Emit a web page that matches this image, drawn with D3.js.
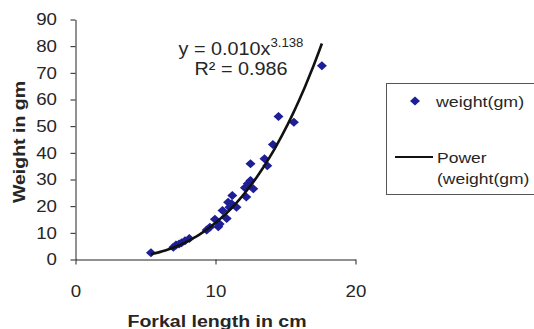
<!DOCTYPE html>
<html>
<head>
<meta charset="utf-8">
<script src="https://cdn.jsdelivr.net/npm/d3@7"></script>
<style>
  body { margin: 0; background: #fff; }
  svg { display: block; font-family: Arial, "Liberation Sans", sans-serif; }
</style>
</head>
<body>
<div id="chart"></div>
<script>
// fork length (cm) vs weight (gm)
const lengthCm = [5.39, 6.99, 7.18, 7.4, 7.58, 7.82, 8.13, 9.37, 9.6, 9.96, 10.2, 10.3, 10.8, 10.5,
  10.9, 11.2, 11.0, 11.15, 11.5, 12.1, 12.2, 12.3, 12.5, 12.7, 12.5, 13.5, 13.7, 14.1, 14.5, 15.6, 17.6];
const weightGm = [2.5, 4.6, 5.4, 5.8, 6.3, 7.0, 7.9, 11.1, 12.1, 15.1, 12.3, 13.3, 15.4, 18.4,
  21.5, 24.0, 19.6, 20.9, 19.6, 26.9, 23.4, 28.4, 29.6, 26.5, 35.9, 37.8, 35.2, 43.1, 53.6, 51.5, 72.7];

const xTicks = [0, 10, 20];
const yTicks = [0, 10, 20, 30, 40, 50, 60, 70, 80, 90];

// power trendline y = a x^b
const trendA = 0.010, trendB = 3.138;
const eqMain = 'y = 0.010x', eqPow = '3.138';
const r2Label = 'R\u00b2 = 0.986';

const seriesName = 'weight(gm)';
const trendName = ['Power', '(weight(gm)'];
const xTitle = 'Forkal length in cm';
const yTitle = 'Weight in gm';

const width = 534, height = 329;
const blue = '#1e1e96', ink = '#262626';

const x = d3.scaleLinear().domain([0, 20]).range([75.5, 355.5]);
const y = d3.scaleLinear().domain([0, 90]).range([259.5, 19.5]);

const svg = d3.select('#chart').append('svg')
  .attr('width', width)
  .attr('height', height);

// text in the picture runs a bit wider than Arial, so stretch along the baseline
const place = (sel, tx, ty, k, rot) =>
  sel.attr('transform', `translate(${tx},${ty})${rot ? ` rotate(${rot})` : ''} scale(${k},1)`);

const diamond = (w, h) => `M0,${-h / 2}L${w / 2},0L0,${h / 2}L${-w / 2},0Z`;

// axes
const yAxis = svg.append('g')
  .attr('transform', `translate(${x(0)},0)`)
  .call(d3.axisLeft(y).tickValues(yTicks).tickSize(5).tickSizeOuter(0));
yAxis.selectAll('text')
  .attr('x', 0)
  .attr('font-size', 17)
  .attr('fill', ink)
  .attr('transform', 'translate(-18.5,0) scale(1.1,1)');

const xAxis = svg.append('g')
  .attr('transform', `translate(0,${y(0)})`)
  .call(d3.axisBottom(x).tickValues(xTicks).tickSize(5).tickSizeOuter(0).tickPadding(20));
xAxis.selectAll('text')
  .attr('font-size', 17)
  .attr('fill', ink)
  .attr('transform', 'scale(1.1,1)');

svg.selectAll('.domain, .tick line').attr('stroke', '#222');
svg.selectAll('.tick text').attr('font-family', null);
svg.selectAll('g').attr('font-family', null);

// axis titles
svg.append('text')
  .attr('text-anchor', 'middle')
  .attr('font-size', 17)
  .attr('font-weight', 'bold')
  .attr('fill', ink)
  .text(xTitle)
  .call(place, 217, 326.5, 1.15);

svg.append('text')
  .attr('text-anchor', 'middle')
  .attr('font-size', 17)
  .attr('font-weight', 'bold')
  .attr('fill', ink)
  .text(yTitle)
  .call(place, 25, 142, 1.15, -90);

// points
const pts = lengthCm.map((v, i) => [v, weightGm[i]]);
svg.append('g').selectAll('path')
  .data(pts)
  .join('path')
  .attr('d', diamond(10, 9))
  .attr('fill', blue)
  .attr('transform', d => `translate(${x(d[0])},${y(d[1])})`);

// trendline over the data range
const [xMin, xMax] = d3.extent(lengthCm);
const curve = d3.range(0, 61).map(i => {
  const xv = xMin + (xMax - xMin) * i / 60;
  return [xv, trendA * Math.pow(xv, trendB)];
});
svg.append('path')
  .datum(curve)
  .attr('fill', 'none')
  .attr('stroke', '#111')
  .attr('stroke-width', 2.6)
  .attr('d', d3.line().x(d => x(d[0])).y(d => y(d[1])));

// equation label
const eq = svg.append('text')
  .attr('text-anchor', 'middle')
  .attr('font-size', 18)
  .attr('fill', ink)
  .call(place, 241, 55, 1.1);
eq.append('tspan').text(eqMain);
eq.append('tspan').attr('font-size', 12).attr('dy', -8.5).text(eqPow);

svg.append('text')
  .attr('text-anchor', 'middle')
  .attr('font-size', 18)
  .attr('fill', ink)
  .text(r2Label)
  .call(place, 241, 75, 1.1);

// legend
const lg = svg.append('g');
lg.append('rect')
  .attr('x', 386.5).attr('y', 83.5)
  .attr('width', 170).attr('height', 111)
  .attr('fill', '#fff')
  .attr('stroke', '#555');
lg.append('path')
  .attr('d', diamond(10, 9))
  .attr('fill', blue)
  .attr('transform', 'translate(415,101)');
lg.append('text')
  .attr('font-size', 15.5)
  .attr('fill', ink)
  .text(seriesName)
  .call(place, 436, 106.5, 1.15);
lg.append('line')
  .attr('x1', 395).attr('x2', 433)
  .attr('y1', 157).attr('y2', 157)
  .attr('stroke', '#111')
  .attr('stroke-width', 2);
lg.selectAll('.tn')
  .data(trendName)
  .join('text')
  .attr('class', 'tn')
  .attr('font-size', 15.5)
  .attr('fill', ink)
  .text(d => d)
  .each(function(d, i) { d3.select(this).call(place, 437, 162.7 + i * 21.3, 1.13); });
</script>
</body>
</html>
